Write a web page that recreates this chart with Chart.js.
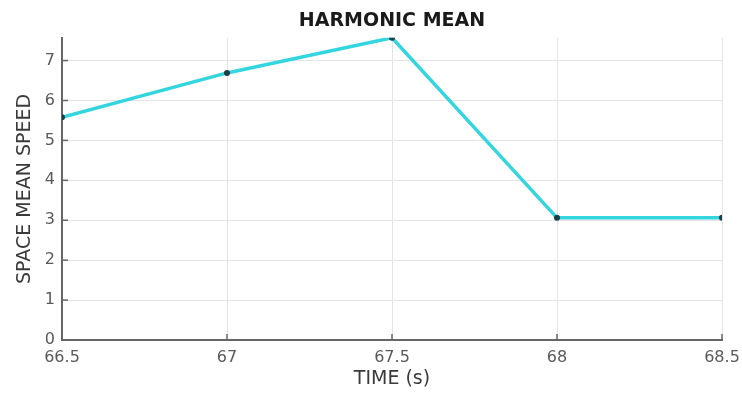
<!DOCTYPE html>
<html>
<head>
<meta charset="utf-8">
<script src="https://cdn.jsdelivr.net/npm/chart.js@4"></script>
<style>
  body { margin: 0; background: #fff; }
  canvas { display: block; }
</style>
</head>
<body>
<canvas id="myChart" width="742" height="394"></canvas>
<script>
// data
var timeValues = [66.5, 67, 67.5, 68, 68.5];
var speedValues = [5.58, 6.69, 7.57, 3.06, 3.06];
var xTickValues = [66.5, 67, 67.5, 68, 68.5];
var yTickValues = [0, 1, 2, 3, 4, 5, 6, 7];

var points = timeValues.map(function (t, i) { return { x: t, y: speedValues[i] }; });

// small inward tick marks, like the original plot
var innerTicks = {
    id: 'innerTicks',
    afterDraw: function (chart) {
        var c = chart.ctx, x = chart.scales.x, y = chart.scales.y;
        c.save();
        c.strokeStyle = '#666';
        c.lineWidth = 1.5;
        xTickValues.forEach(function (v) {
            var px = x.getPixelForValue(v);
            c.beginPath(); c.moveTo(px, y.bottom); c.lineTo(px, y.bottom - 6); c.stroke();
        });
        yTickValues.forEach(function (v) {
            var py = y.getPixelForValue(v);
            c.beginPath(); c.moveTo(x.left, py); c.lineTo(x.left + 6, py); c.stroke();
        });
        c.restore();
    }
};

var ctx = document.getElementById('myChart').getContext('2d');
var chart = new Chart(ctx, {
    type: 'line',
    data: {
        datasets: [{
            data: points,
            borderColor: '#33d5df',
            borderWidth: 3.5,
            fill: false,
            tension: 0,
            pointRadius: 3,
            pointBackgroundColor: '#1d3f44',
            pointBorderColor: '#1d3f44',
            pointBorderWidth: 0
        }]
    },
    options: {
        responsive: false,
        devicePixelRatio: 1,
        animation: false,
        layout: { padding: { left: 0, right: 20, top: 0, bottom: 0 } },
        plugins: {
            legend: { display: false },
            tooltip: { enabled: false },
            title: {
                display: true,
                fullSize: false,
                text: 'HARMONIC MEAN',
                color: '#1a1a1a',
                font: { family: 'DejaVu Sans', size: 19, weight: 'bold', lineHeight: 1.2 },
                padding: { top: 10, bottom: 5 }
            }
        },
        scales: {
            x: {
                type: 'linear',
                min: 66.5,
                max: 68.5,
                afterBuildTicks: function (s) { s.ticks = xTickValues.map(function (v) { return { value: v }; }); },
                afterFit: function (s) { s.height = 54; s.paddingRight = 0; s.paddingLeft = 0; },
                ticks: {
                    color: '#5a5a5a',
                    font: { family: 'DejaVu Sans', size: 16 },
                    padding: 8,
                    maxRotation: 0,
                    callback: function (v) { return String(v); }
                },
                grid: { color: '#e4e4e4', drawTicks: false },
                border: { color: '#666', width: 2 },
                title: {
                    display: true,
                    text: 'TIME (s)',
                    color: '#3a3a3a',
                    font: { family: 'DejaVu Sans', size: 19 },
                    padding: { top: 0, bottom: 4 }
                }
            },
            y: {
                min: 0,
                max: 7.57,
                afterBuildTicks: function (s) { s.ticks = yTickValues.map(function (v) { return { value: v }; }); },
                afterFit: function (s) { s.width = 62; },
                ticks: {
                    color: '#5a5a5a',
                    font: { family: 'DejaVu Sans', size: 16 },
                    padding: 7
                },
                grid: { color: '#e4e4e4', drawTicks: false },
                border: { color: '#666', width: 2 },
                title: {
                    display: true,
                    text: 'SPACE MEAN SPEED',
                    color: '#3a3a3a',
                    font: { family: 'DejaVu Sans', size: 19 },
                    padding: { top: 14, bottom: 0 }
                }
            }
        }
    },
    plugins: [innerTicks]
});
</script>
</body>
</html>
